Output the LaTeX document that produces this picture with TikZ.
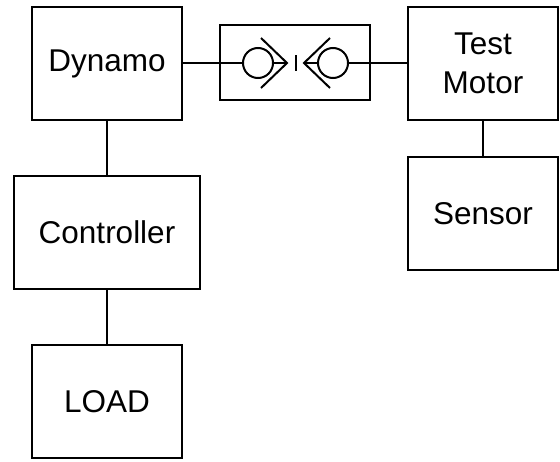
\documentclass[tikz,border=0pt]{standalone}
\usepackage{fontspec}
\setmainfont{Liberation Sans}
\usepackage{tikz}
\usetikzlibrary{calc}
\tikzset{
  unitbox/.style={draw,line width=2pt,minimum width=150pt,minimum height=113pt,align=center,inner sep=0pt,font=\fontsize{31.5}{38}\selectfont},
  shaft/.style={draw,circle,line width=2pt,minimum size=30pt,inner sep=0pt},
  conn/.style={line width=2pt}
}
\begin{document}
\begin{tikzpicture}[x=1pt,y=-1pt]
  \useasboundingbox (0,0) rectangle (560,461);
  \node[unitbox] (dynamo) at (107,63.5) {Dynamo};
  \node[unitbox,minimum width=186pt] (controller) at (107,232.5) {Controller};
  \node[unitbox] (load) at (107,401.5) {LOAD};
  \node[unitbox] (motor) at (483,63.5) {Test\\[1pt]Motor};
  \node[unitbox] (sensor) at (483,213.5) {Sensor};
  \node[draw,line width=2pt,minimum width=150pt,minimum height=75pt] (coupling) at (295,62.5) {};
  \node[shaft] (lcirc) at (258,63) {};
  \node[shaft] (rcirc) at (333,63) {};
  \coordinate (ltip) at (287,63);
  \coordinate (rtip) at (304,63);
  \draw[conn] (dynamo) -- (controller);
  \draw[conn] (controller) -- (load);
  \draw[conn] (motor) -- (sensor);
  \draw[conn] (dynamo.east |- lcirc) -- (lcirc.west);
  \draw[conn] (lcirc.east) -- (ltip);
  \draw[conn] (rcirc.west) -- (rtip);
  \draw[conn] (rcirc.east) -- (motor.west |- rcirc);
  \draw[conn] ($(ltip)+(-26,-25)$) -- (ltip) -- ($(ltip)+(-26,25)$);
  \draw[conn] ($(rtip)+(26,-25)$) -- (rtip) -- ($(rtip)+(26,25)$);
  \coordinate (tick) at (296,63);
  \draw[conn] ($(tick)+(0,-8)$) -- ($(tick)+(0,8)$);
\end{tikzpicture}
\end{document}
